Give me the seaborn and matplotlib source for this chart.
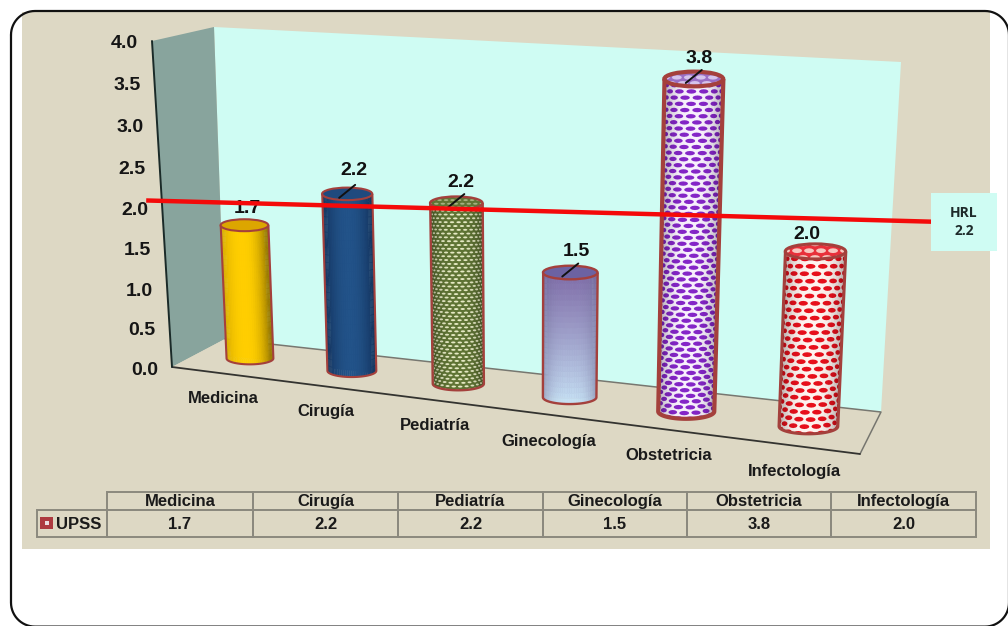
import numpy as np
import matplotlib
matplotlib.use("Agg")
import matplotlib.pyplot as plt
import seaborn as sns
from matplotlib.collections import PolyCollection
from matplotlib.colors import to_rgb
from matplotlib.patches import Ellipse, Polygon, Rectangle
from matplotlib.transforms import Affine2D, Transform

# Chart data
departments = ["Medicina", "Cirugía", "Pediatría", "Ginecología", "Obstetricia", "Infectología"]
upss_values = [1.7, 2.2, 2.2, 1.5, 3.8, 2.0]
value_ticks = [0.0, 0.5, 1.0, 1.5, 2.0, 2.5, 3.0, 3.5, 4.0]
series_name = "UPSS"
hrl_value = 2.2
hrl_line_cat = [-0.98, 5.97]
hrl_line_val = [1.90, 2.44]

W, H = 1008, 626
PANEL = "#DDD8C4"
BACK_WALL = "#CFFCF3"
SIDE_WALL = "#88A49D"
RIM = "#A4403C"
FONT = "Liberation Sans"

# Control points of the oblique view: (category, value) -> canvas position
view_src = np.array([(0, 0), (0, 1.7), (1, 0), (1, 2.2), (2, 0), (2, 2.2),
                     (3, 0), (3, 1.5), (4, 0), (4, 3.8), (5, 0), (5, 2.0)], float)
view_dst = np.array([(250, 358), (244, 226), (352, 371), (347, 194), (457, 383), (457, 203),
                     (571, 397), (570, 272), (686, 412), (694, 79), (808, 427), (815, 251)], float)


def fit_homography(src, dst):
    rows = []
    for (c, v), (x, y) in zip(src, dst / 1000.0):
        rows.append([c, v, 1, 0, 0, 0, -x * c, -x * v, -x])
        rows.append([0, 0, 0, c, v, 1, -y * c, -y * v, -y])
    return np.linalg.svd(np.array(rows))[2][-1].reshape(3, 3)


class ObliqueView(Transform):
    """Projects (category, value) pairs onto the canvas."""
    input_dims = 2
    output_dims = 2

    def __init__(self, matrix):
        super().__init__()
        self.matrix = matrix

    def transform_non_affine(self, values):
        pts = np.column_stack([np.asarray(values), np.ones(len(values))]) @ self.matrix.T
        return pts[:, :2] / pts[:, 2:] * 1000.0


sns.set_theme(style="white")
fig = plt.figure(figsize=(W / 100, H / 100), dpi=100, facecolor="white")
ax = fig.add_axes([0, 0, 1, 1])

# Canvas units are top-left based
canvas = Affine2D().scale(1 / W, -1 / H).translate(0, 1) + fig.transFigure
view = ObliqueView(fit_homography(view_src, view_dst))
view_t = view + canvas


def project(c, v):
    return view.transform(np.array([[c, v]], float))[0]


def mix(a, b, t):
    return tuple((1 - t) * np.array(to_rgb(a)) + t * np.array(to_rgb(b)))


# Bars come from seaborn; the cylinders are built on their geometry
sns.barplot(x=departments, y=upss_values, hue=departments, order=departments, hue_order=departments,
            palette=["#FFCC00", "#1F4E86", "#6B7D3A", "#9DA6CC", "#8526C8", "#E8101C"],
            width=0.47, saturation=1, legend=False, ax=ax, zorder=3)
bars = list(ax.patches)
ax.set_xlim(-0.5, 5.5)
ax.set_ylim(0, 4)
ax.axis("off")

# Chart panel and the rounded frame around it
ax.add_patch(Rectangle((22, 12), 968, 537, transform=canvas, fc=PANEL, ec="none", zorder=0))
corner_r = 24
corner_centers = [(35, 35, np.pi, 1.5 * np.pi), (985, 35, 1.5 * np.pi, 2 * np.pi),
                  (985, 602.6, 0, 0.5 * np.pi), (35, 602.6, 0.5 * np.pi, np.pi)]
frame_pts = []
for ccx, ccy, a0, a1 in corner_centers:
    ang = np.linspace(a0, a1, 16)
    frame_pts.extend(zip(ccx + corner_r * np.cos(ang), ccy + corner_r * np.sin(ang)))
frame_pts.append(frame_pts[0])
frame_pts = np.array(frame_pts)
ax.plot(frame_pts[:, 0], frame_pts[:, 1], transform=canvas, color="#111111", lw=1.6, zorder=1)

# Side wall, back wall and floor
ax.add_patch(Polygon([(214, 27), (901, 62), (881, 412), (225, 339)], transform=canvas, fc=BACK_WALL, ec="none", zorder=1))
ax.add_patch(Polygon([(152, 41), (214, 27), (225, 339), (172, 367)], transform=canvas, fc=SIDE_WALL, ec="none", zorder=1))
ax.add_patch(Polygon([(172, 367), (225, 339), (881, 412), (860, 454)], transform=canvas, fc=PANEL, ec="none", zorder=1))
ax.plot([225, 881, 860], [339, 412, 454], transform=canvas, color="#777770", lw=1.1, zorder=2)
ax.plot([172, 860], [367, 454], transform=canvas, color="#333330", lw=1.3, zorder=2)
ax.plot([152, 172], [41, 367], transform=canvas, color="#1A2A28", lw=1.4, zorder=2)


def axis_y(v):
    return (-82.2 * v + 368.0) / (-0.0105 * v + 1.0)


for tick in value_ticks:
    y = axis_y(tick)
    x = 172 - (368 - y) / 327 * 20 - 14
    ax.text(x, y + 6.8, f"{tick:.1f}", transform=canvas, ha="right", va="baseline", fontsize=14,
            fontweight="bold", family=FONT, color="#151515", zorder=6)

# Category labels along the floor edge
label_x = [223, 326, 435, 549, 669, 794]
label_y = [403, 416, 430, 446, 460, 476]
for name, x, y in zip(departments, label_x, label_y):
    ax.text(x, y, name, transform=canvas, ha="center", va="baseline", fontsize=12,
            fontweight="bold", family=FONT, color="#1A1A1A", zorder=6)


def shade_gold(u, t):
    return mix("#FFCE00", "#C79C00" if u < 0 else "#9A7A00", min(1, abs(u + 0.1) ** 2.4))


def shade_navy(u, t):
    return mix("#225389", "#12305A", min(1, abs(u) ** 2))


def shade_lilac(u, t):
    base = mix("#C8E4F6", "#7F6CA8", min(1, t ** 0.9))
    return mix(base, "#6E6A94", min(1, abs(u) ** 3) * 0.55)


def surface(cx, w, h, b, u, t):
    # Horizontal rings: the side follows the bar edge, the height follows the axis of the cylinder
    x = project(cx + u * w / 2, t * h)[0]
    y = project(cx, t * h)[1]
    return np.array([x, y + b * np.sqrt(max(0, 1 - u * u)) * (1 - t)])


def body_outline(cx, w, h, b):
    us = np.sin(np.linspace(-np.pi / 2, np.pi / 2, 41))
    lower = [surface(cx, w, h, b, u, 0) for u in us]
    return np.array([surface(cx, w, h, b, -1, 1)] + lower + [surface(cx, w, h, b, 1, 1)])


def ellipse_poly(x, y, a, c):
    ang = np.linspace(0, 2 * np.pi, 13)[:-1]
    return np.column_stack([x + a * np.cos(ang), y + c * np.sin(ang)])


def solid_body(cx, w, h, b, shade):
    us = np.sin(np.linspace(-np.pi / 2, np.pi / 2, 37))
    ts = np.linspace(0, 1, 25)
    quads, cols = [], []
    for i in range(len(us) - 1):
        for j in range(len(ts) - 1):
            quads.append([surface(cx, w, h, b, us[i], ts[j]), surface(cx, w, h, b, us[i + 1], ts[j]),
                          surface(cx, w, h, b, us[i + 1], ts[j + 1]), surface(cx, w, h, b, us[i], ts[j + 1])])
            cols.append(shade((us[i] + us[i + 1]) / 2, (ts[j] + ts[j + 1]) / 2))
    ax.add_collection(PolyCollection(quads, facecolors=cols, edgecolors="face", linewidths=0.3,
                                     transform=canvas, zorder=3.2), autolim=False)


def mesh_body(cx, w, h, b, base, cell, cell_w, cell_h, row_step, col_step, clip):
    ax.add_patch(Polygon(clip.get_xy(), transform=canvas, fc=base, ec="none", zorder=3.1))
    r = abs(project(cx + w / 2, 0)[0] - project(cx - w / 2, 0)[0]) / 2
    length = abs(project(cx, h)[1] - project(cx, 0)[1])
    rows = int(length / row_step) + 2
    polys = []
    for j in range(rows):
        t = j / (rows - 2)
        start = (j % 2) * 0.5 * col_step / r
        for th in np.arange(-np.pi / 2 - col_step / r, np.pi / 2 + col_step / r, col_step / r) + start:
            u = np.sin(np.clip(th, -np.pi / 2, np.pi / 2))
            x, y = surface(cx, w, h, b, u, min(t, 1))
            polys.append(ellipse_poly(x, y, cell_w / 2 * max(0.3, np.cos(np.clip(th, -1.5, 1.5))), cell_h / 2))
    cells = PolyCollection(polys, facecolors=cell, edgecolors="none", transform=canvas, zorder=3.2)
    ax.add_collection(cells, autolim=False)
    cells.set_clip_path(clip)
    # Darken the flanks so the mesh reads as curved
    us = np.sin(np.linspace(-np.pi / 2, np.pi / 2, 25))
    strips, shades = [], []
    for i in range(len(us) - 1):
        strips.append([surface(cx, w, h, b, us[i], 0), surface(cx, w, h, b, us[i + 1], 0),
                       surface(cx, w, h, b, us[i + 1], 1), surface(cx, w, h, b, us[i], 1)])
        shades.append((0, 0, 0, 0.32 * abs((us[i] + us[i + 1]) / 2) ** 3))
    ax.add_collection(PolyCollection(strips, facecolors=shades, edgecolors="none", transform=canvas,
                                     zorder=3.3), autolim=False)


def mesh_lid(center, w_px, b, lid, cell, cell_w, cell_h, row_step, col_step):
    polys = []
    for j, dy in enumerate(np.arange(-b, b + row_step, row_step)):
        for dx in np.arange(-w_px, w_px, col_step) + (j % 2) * col_step / 2:
            polys.append(ellipse_poly(center[0] + dx, center[1] + dy, cell_w / 2, cell_h / 2))
    cells = PolyCollection(polys, facecolors=cell, edgecolors="none", transform=canvas, zorder=3.55)
    ax.add_collection(cells, autolim=False)
    cells.set_clip_path(lid)


styles = [
    dict(shade=shade_gold, lid="#DCA600", rim=1.5),
    dict(shade=shade_navy, lid="#1F4A7E", rim=1.5),
    dict(mesh=("#5F7434", "#E6EAC4", 4.6, 2.0, 3.6, 6.5), lid="#5F7434", lid_cell="#A5AF80", rim=1.7),
    dict(shade=shade_lilac, lid="#6C62A2", rim=1.7),
    dict(mesh=("#F8F0FD", "#8526C8", 10.0, 4.4, 5.8, 12.0), lid="#9A6FC4", lid_cell="#D5C3EC", rim=3.0),
    dict(mesh=("#FFF3EF", "#E8101C", 10.0, 4.8, 6.8, 12.0), lid="#E8303A", lid_cell="#F6C8C0", rim=2.2),
]

leader_bars = {1, 2, 3, 4}
label_shift = [(3, -17), (7, -23), (5, -21), (6, -21), (5, -20), (-9, -17)]

for i, (bar, style, shift) in enumerate(zip(bars, styles, label_shift)):
    cx = bar.get_x() + bar.get_width() / 2
    w, h = bar.get_width(), bar.get_height()
    # The seaborn bar stays as the core of the cylinder
    bar.set_width(w * 0.8)
    bar.set_x(cx - w * 0.4)
    bar.set_transform(view_t)
    bar.set_edgecolor("none")

    top_c = project(cx, h)
    w_px = abs(project(cx + w / 2, h)[0] - project(cx - w / 2, h)[0])
    b = 0.125 * w_px
    outline = body_outline(cx, w, h, b)
    clip = Polygon(outline, closed=True, transform=canvas, fc="none", ec="none", zorder=3.05)
    ax.add_patch(clip)
    if "mesh" in style:
        mesh_body(cx, w, h, b, *style["mesh"], clip)
    else:
        solid_body(cx, w, h, b, style["shade"])
    ax.add_patch(Polygon(outline, closed=False, transform=canvas, fc="none", ec=RIM, lw=style["rim"], zorder=3.4))
    lid = Ellipse(top_c, w_px, 2 * b, transform=canvas, fc=style["lid"], ec="none", zorder=3.5)
    ax.add_patch(lid)
    if "mesh" in style:
        mesh_lid(top_c, w_px, b, lid, style["lid_cell"], *style["mesh"][2:])
    ax.add_patch(Ellipse(top_c, w_px, 2 * b, transform=canvas, fc="none", ec=RIM, lw=style["rim"], zorder=3.6))
    if i in leader_bars:
        ax.plot([top_c[0] - 8, top_c[0] + 8], [top_c[1] + 4, top_c[1] - 9], transform=canvas,
                color="#111111", lw=1.4, zorder=3.7)
    ax.text(top_c[0] + shift[0], top_c[1] + shift[1], f"{upss_values[i]:.1f}", transform=canvas,
            ha="center", va="center", fontsize=14, family=FONT, fontweight="bold", color="#111111", zorder=3.8)

# Reference line and its callout
line_pts = view.transform(np.column_stack([hrl_line_cat, hrl_line_val]))
ax.plot(line_pts[:, 0], line_pts[:, 1], transform=canvas, color="#F40A0A", lw=3.2,
        solid_capstyle="butt", zorder=5)
ax.add_patch(Rectangle((931, 193), 66, 58, transform=canvas, fc=BACK_WALL, ec="none", zorder=5))
ax.text(964, 222, f"HRL\n{hrl_value:.1f}", transform=canvas, ha="center", va="center", fontsize=10,
        family="Open Sans", fontweight="bold", color="#1E2A2A", linespacing=1.45, zorder=6)

# Data table under the plot
col_edges = [107, 253, 398, 543, 687, 831, 976]
grid = "#8B897E"
ax.add_patch(Rectangle((37, 510), 70, 27, transform=canvas, fc="none", ec=grid, lw=1.4, zorder=4))
for k, (name, val) in enumerate(zip(departments, upss_values)):
    x0, x1 = col_edges[k], col_edges[k + 1]
    ax.add_patch(Rectangle((x0, 492), x1 - x0, 18, transform=canvas, fc="none", ec=grid, lw=1.4, zorder=4))
    ax.add_patch(Rectangle((x0, 510), x1 - x0, 27, transform=canvas, fc="none", ec=grid, lw=1.4, zorder=4))
    ax.text((x0 + x1) / 2, 506, name, transform=canvas, ha="center", va="baseline", fontsize=12,
            fontweight="bold", family=FONT, color="#1A1A1A", zorder=6)
    ax.text((x0 + x1) / 2, 529, f"{val:.1f}", transform=canvas, ha="center", va="baseline", fontsize=12,
            fontweight="bold", family=FONT, color="#1A1A1A", zorder=6)
ax.add_patch(Rectangle((40, 517), 13, 12, transform=canvas, fc="#AD3A40", ec="none", zorder=6))
ax.add_patch(Rectangle((44.5, 521), 4, 4, transform=canvas, fc="#EBDDE0", ec="none", zorder=6.1))
ax.text(56, 529, series_name, transform=canvas, ha="left", va="baseline", fontsize=12,
        fontweight="bold", family=FONT, color="#1A1A1A", zorder=6)

fig.savefig("out.png", dpi=100, facecolor="white")
